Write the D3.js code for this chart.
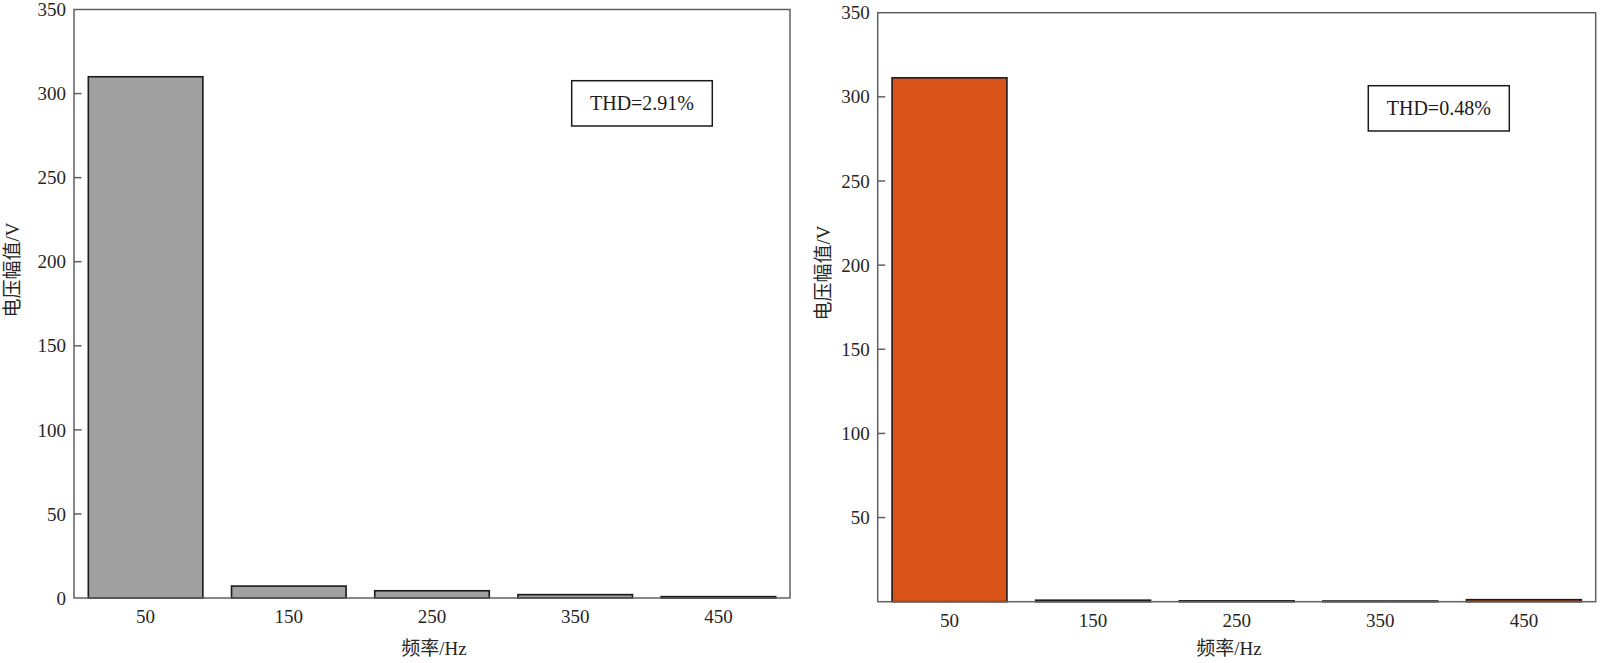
<!DOCTYPE html>
<html>
<head>
<meta charset="utf-8">
<script src="https://cdn.jsdelivr.net/npm/d3@7"></script>
<style>
  html, body { margin: 0; padding: 0; background: #fff; }
  svg { display: block; }
  .num { font-family: "Liberation Serif", "DejaVu Serif", serif; }
  .cjk { font-family: "Liberation Serif", "Noto Sans CJK SC", serif; }
</style>
</head>
<body>
<svg id="chart" width="1600" height="663"></svg>
<script>
// ---- data ----
const categories = ["50", "150", "250", "350", "450"];
const leftValues = [310, 7.1, 4.3, 2.0, 0.8];
const rightValues = [311.3, 0.9, 0.5, 0.4, 1.2];
const leftTicks = [0, 50, 100, 150, 200, 250, 300, 350];
const rightTicks = [50, 100, 150, 200, 250, 300, 350];
const thdLabels = ["THD=2.91%", "THD=0.48%"];
const yLabel = "电压幅值/V";
const xLabel = "频率/Hz";

const svg = d3.select("#chart");

const panels = [
  { values: leftValues, ticks: leftTicks, thd: thdLabels[0], color: "#a0a0a0",
    x0: 74, x1: 790, yTop: 9.5, yBot: 598,
    box: { x: 571.7, y: 80.7, w: 140.6, h: 45.3 },
    yLab: { x: 12, y: 270 }, xLab: { x: 434, y: 655 }, tickBase: 623 },
  { values: rightValues, ticks: rightTicks, thd: thdLabels[1], color: "#d95319",
    x0: 877.7, x1: 1595.7, yTop: 12.7, yBot: 601.7,
    box: { x: 1368.3, y: 85.7, w: 141, h: 45.3 },
    yLab: { x: 823, y: 273 }, xLab: { x: 1229, y: 655 }, tickBase: 627 }
];

panels.forEach(p => {
  const g = svg.append("g");
  const x = d3.scaleBand().domain(categories).range([p.x0, p.x1])
    .paddingInner(0.2).paddingOuter(0.1);
  const y = d3.scaleLinear().domain([0, 350]).range([p.yBot, p.yTop]);

  // bars
  g.selectAll("rect.bar").data(p.values).enter().append("rect")
    .attr("class", "bar")
    .attr("x", (d, i) => x(categories[i]))
    .attr("width", x.bandwidth())
    .attr("y", d => y(d))
    .attr("height", d => y(0) - y(d))
    .attr("fill", p.color)
    .attr("stroke", "#1a1a1a")
    .attr("stroke-width", 1.6);

  // frame
  g.append("rect")
    .attr("x", p.x0).attr("y", p.yTop)
    .attr("width", p.x1 - p.x0).attr("height", p.yBot - p.yTop)
    .attr("fill", "none").attr("stroke", "#606060").attr("stroke-width", 1.5);

  // y ticks (inward)
  g.selectAll("line.yt").data(p.ticks.filter(t => t > 0 && t < 350)).enter().append("line")
    .attr("x1", p.x0).attr("x2", p.x0 + 7.5)
    .attr("y1", d => y(d)).attr("y2", d => y(d))
    .attr("stroke", "#606060").attr("stroke-width", 1.5);

  // y tick labels
  g.selectAll("text.yl").data(p.ticks).enter().append("text")
    .attr("class", "num")
    .attr("x", p.x0 - 8).attr("y", d => y(d))
    .attr("dy", "0.35em")
    .attr("text-anchor", "end")
    .attr("font-size", 19)
    .attr("fill", "#262626")
    .text(d => d);

  // x tick labels
  g.selectAll("text.xl").data(categories).enter().append("text")
    .attr("class", "num")
    .attr("x", d => x(d) + x.bandwidth() / 2)
    .attr("y", p.tickBase)
    .attr("text-anchor", "middle")
    .attr("font-size", 19)
    .attr("fill", "#262626")
    .text(d => d);

  // axis labels
  g.append("text")
    .attr("class", "cjk")
    .attr("x", p.xLab.x).attr("y", p.xLab.y)
    .attr("text-anchor", "middle")
    .attr("font-size", 19)
    .attr("fill", "#262626")
    .text(xLabel);

  g.append("text")
    .attr("class", "cjk")
    .attr("transform", `translate(${p.yLab.x},${p.yLab.y}) rotate(-90)`)
    .attr("text-anchor", "middle")
    .attr("dy", "0.35em")
    .attr("font-size", 19)
    .attr("fill", "#262626")
    .text(yLabel);

  // THD annotation box
  g.append("rect")
    .attr("x", p.box.x).attr("y", p.box.y)
    .attr("width", p.box.w).attr("height", p.box.h)
    .attr("fill", "#fff").attr("stroke", "#1a1a1a").attr("stroke-width", 1.5);
  g.append("text")
    .attr("class", "num")
    .attr("x", p.box.x + p.box.w / 2)
    .attr("y", p.box.y + p.box.h / 2)
    .attr("dy", "0.35em")
    .attr("text-anchor", "middle")
    .attr("font-size", 20)
    .attr("fill", "#1a1a1a")
    .text(p.thd);
});
</script>
</body>
</html>
